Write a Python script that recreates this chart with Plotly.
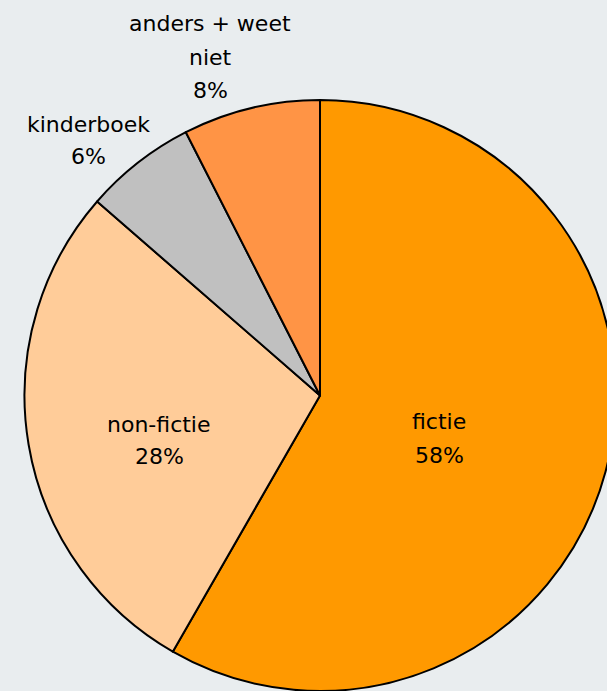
import plotly.graph_objects as go

labels = ["fictie", "non-fictie", "kinderboek", "anders + weet niet"]
values = [58.3, 28.1, 6.1, 7.5]
colors = ["#FF9900", "#FFCC99", "#C0C0C0", "#FF9445"]

BG = "#E9EDEF"
W, H = 640, 691
M_T = 100
FONT = dict(family="DejaVu Sans", size=22, color="#000000")

# label layout: text lines and (x centre, baseline of first line) in pixels
label_lines = [["fictie"], ["non-fictie"], ["kinderboek"], ["anders + weet", "niet"]]
label_pos = [(439, 429), (159, 431), (88, 131), (210, 31)]
LINE_GAP = 33

fig = go.Figure(
    go.Pie(
        labels=labels,
        values=values,
        sort=False,
        direction="clockwise",
        rotation=0,
        marker=dict(colors=colors, line=dict(color="#000000", width=2)),
        textinfo="none",
        automargin=False,
        hoverinfo="label+percent",
        showlegend=False,
    )
)

plot_h = H - M_T


def to_paper(px, py):
    return px / W, (H - py) / plot_h


total = sum(values)
annotations = []
for lines, val, (px, py) in zip(label_lines, values, label_pos):
    all_lines = lines + [f"{round(100 * val / total)}%"]
    for i, t in enumerate(all_lines):
        base = py + i * LINE_GAP
        ax, ay = to_paper(px, base - 7)
        annotations.append(
            dict(
                text=t,
                x=ax,
                y=ay,
                xref="paper",
                yref="paper",
                xanchor="center",
                yanchor="middle",
                showarrow=False,
                font=FONT,
            )
        )

fig.update_layout(
    width=W,
    height=H,
    margin=dict(l=0, r=0, t=M_T, b=0, autoexpand=False),
    paper_bgcolor=BG,
    plot_bgcolor=BG,
    showlegend=False,
    annotations=annotations,
)

fig.write_html(
    "out.html",
    config={"displayModeBar": False},
    post_script="document.body.style.margin='0';document.body.style.overflow='hidden';document.body.style.background='" + BG + "';",
)
